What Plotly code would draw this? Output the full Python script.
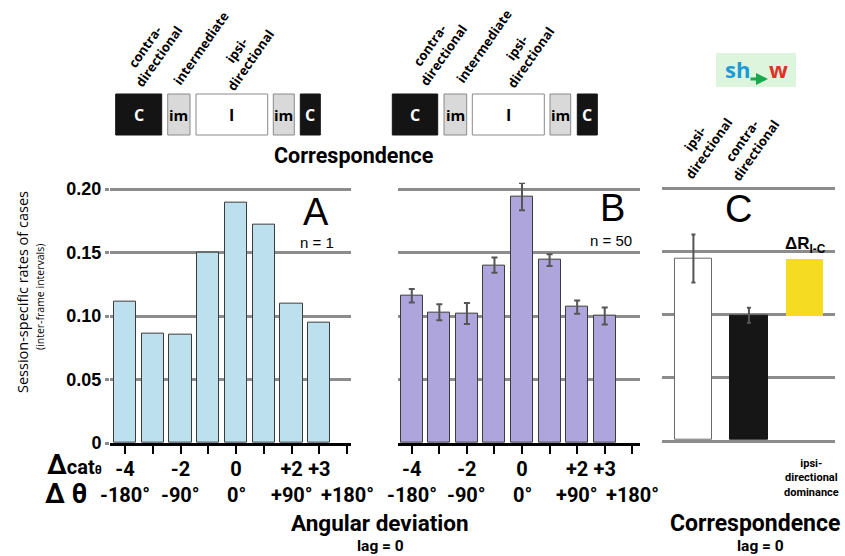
import plotly.graph_objects as go

# ---------------- data ----------------
cat_delta = [-4, -3, -2, -1, 0, 1, 2, 3]
rates_A = [0.111, 0.086, 0.085, 0.150, 0.189, 0.172, 0.110, 0.095]
rates_B = [0.116, 0.103, 0.102, 0.140, 0.194, 0.144, 0.107, 0.100]
err_B = [0.0053, 0.0063, 0.0083, 0.0060, 0.0107, 0.0047, 0.0053, 0.0066]

corr_cats = ["ipsi", "contra", "delta"]
rate_ipsi = 0.144
err_ipsi = 0.019
rate_contra = 0.099
err_contra = 0.006

tick_vals = [-4, -3, -2, -1, 0, 1, 2, 3, 4]
tick_row1 = ["-4", "", "-2", "", "0", "", "+2", "+3", ""]
deg_vals = [-4, -2, 0, 2, 4]
deg_text = ["-180°", "-90°", "0°", "+90°", "+180°"]
y_ticks = [0, 0.05, 0.10, 0.15, 0.20]
y_tick_text = ["0", "0.05", "0.10", "0.15", "0.20"]

# ---------------- helpers ----------------
W, H = 845, 556


def px(x):
    return x / W


def py(y):
    return 1 - y / H


NARROW = "Roboto, Liberation Sans, sans-serif"
SANS = "Open Sans, Liberation Sans, sans-serif"
ARIAL = "Liberation Sans, Arial, sans-serif"
GRID = "#8c8c8c"
ERR = "#555555"

fig = go.Figure()

# Panel A
fig.add_trace(go.Bar(
    x=cat_delta, y=rates_A, width=0.8, xaxis="x", yaxis="y",
    marker=dict(color="#bde0ef", line=dict(color="#3c3c3c", width=1)),
    showlegend=False))

# Panel B
fig.add_trace(go.Bar(
    x=cat_delta, y=rates_B, width=0.8, xaxis="x2", yaxis="y2",
    marker=dict(color="#aea5dc", line=dict(color="#3c3c3c", width=1)),
    error_y=dict(type="data", array=err_B, color=ERR, thickness=2, width=3),
    showlegend=False))

# Panel C
fig.add_trace(go.Bar(
    x=corr_cats[:2], y=[rate_ipsi, rate_contra], width=0.67, xaxis="x3", yaxis="y3",
    marker=dict(color=["#ffffff", "#161616"], line=dict(color=["#6a6a6a", "#161616"], width=1)),
    error_y=dict(type="data", array=[err_ipsi, err_contra], color=ERR, thickness=2, width=2),
    showlegend=False))
fig.add_trace(go.Bar(
    x=[corr_cats[2]], y=[rate_ipsi - rate_contra], base=[rate_contra], width=0.67,
    xaxis="x3", yaxis="y3",
    marker=dict(color="#f5dc22", line=dict(width=0)),
    showlegend=False))

yA_bottom, yA_top = 443, 443 - 0.205 * 1270
yC_bottom, yC_top = 440, 440 - 0.205 * 1260

common_y = dict(range=[0, 0.205], tickvals=y_ticks, showgrid=True, gridcolor=GRID,
                gridwidth=3, zeroline=False, showline=False, automargin=False)
xtick_common = dict(tickvals=tick_vals, ticktext=tick_row1, ticks="outside", ticklen=8,
                    tickwidth=2, tickcolor="black", showline=True, linecolor="black",
                    linewidth=3, showgrid=False, zeroline=False, ticklabelstandoff=-2,
                    tickangle=0, automargin=False,
                    tickfont=dict(family=NARROW, size=20, color="black", weight="bold"))

fig.update_layout(
    template="none",
    width=W, height=H, margin=dict(l=0, r=0, t=0, b=0, pad=0, autoexpand=False),
    paper_bgcolor="white", plot_bgcolor="rgba(0,0,0,0)",
    barmode="overlay", bargap=0,
    xaxis=dict(domain=[px(110), px(351)], range=[-4.54, 4.14], anchor="y", **xtick_common),
    yaxis=dict(domain=[py(yA_bottom), py(yA_top)], anchor="x", ticktext=y_tick_text,
               ticks="outside", ticklen=4, tickwidth=3, tickcolor=GRID,
               tickfont=dict(family=ARIAL, size=18, color="black", weight="bold"),
               **common_y),
    xaxis2=dict(domain=[px(398), px(640)], range=[-4.5, 4.28], anchor="y2", **xtick_common),
    yaxis2=dict(domain=[py(yA_bottom), py(yA_top)], anchor="x2", showticklabels=False,
                ticks="", **common_y),
    xaxis3=dict(domain=[px(662), px(835)], range=[-0.566, 2.55], anchor="y3",
                type="category", categoryorder="array", categoryarray=corr_cats,
                showticklabels=False, ticks="", showline=True, linecolor=GRID,
                linewidth=3, showgrid=False, zeroline=False, automargin=False),
    yaxis3=dict(domain=[py(yC_bottom), py(yC_top)], anchor="x3", showticklabels=False,
                ticks="", **common_y),
)

anns = []


def ann(text, x, y, size, color="black", family=SANS, weight="normal", angle=0,
        xanchor="center", yanchor="middle", xref="paper", xval=None):
    anns.append(dict(text=text, x=xval if xval is not None else px(x), y=py(y),
                     xref=xref, yref="paper", showarrow=False, textangle=angle,
                     xanchor=xanchor, yanchor=yanchor,
                     font=dict(size=size, color=color, family=family, weight=weight)))


# top schematic boxes
box_sets = [
    [(115.7, 161.7, "C", "k"), (167.7, 190, "im", "g"), (196, 267.7, "I", "w"),
     (273.3, 294.3, "im", "g"), (300.3, 320.3, "C", "k")],
    [(392.3, 437.7, "C", "k"), (444, 466.7, "im", "g"), (472.3, 544.3, "I", "w"),
     (550, 570.7, "im", "g"), (577.3, 597.3, "C", "k")],
]
fills = {"k": "#141414", "g": "#d9d9d9", "w": "#ffffff"}
lines = {"k": "#141414", "g": "#8a8a8a", "w": "#8a8a8a"}
shapes = []
for bs in box_sets:
    for x0, x1, lab, kind in bs:
        shapes.append(dict(type="rect", xref="paper", yref="paper", x0=px(x0), x1=px(x1),
                           y0=py(135), y1=py(94), fillcolor=fills[kind],
                           line=dict(color=lines[kind], width=1)))
        ann(lab, (x0 + x1) / 2, 115, 15 if lab == "im" else 16,
            color="white" if kind == "k" else "black", weight="bold")

# rotated labels above boxes
for off, pos in [(0, [(152, 52), (201, 48), (243, 55)]), (1, [(436, 50), (484, 46), (524, 53)])]:
    for txt, (x, y) in zip(["contra-<br>directional", "intermediate", "ipsi-<br>directional"], pos):
        ann(txt, x, y, 13, weight="bold", angle=-55)

ann("Correspondence", 354, 155, 21.5, family=NARROW, weight="bold")

# C panel rotated labels
ann("ipsi-<br>directional", 702, 144, 13, weight="bold", angle=-55)
ann("contra-<br>directional", 749, 146, 13, weight="bold", angle=-55)

# sh -> w box
shapes.append(dict(type="rect", xref="paper", yref="paper", x0=px(716), x1=px(796),
                   y0=py(87), y1=py(53), fillcolor="#dcf5dc", line=dict(width=0)))
ann("sh", 737, 69, 22, color="#1b9bd7", weight="bold")
ann("w", 778, 69, 22, color="#e0302a", weight="bold")
anns.append(dict(x=px(768), y=py(79), ax=-19, ay=0,
                 xref="paper", yref="paper", text="", showarrow=True, arrowhead=2,
                 arrowsize=0.8, arrowwidth=3, arrowcolor="#18a84e"))

# y title
ann("Session-specific rates of cases", 22, 292, 14.5, angle=-90)
ann("(inter-frame intervals)", 40, 297, 10.5, angle=-90)

# panel letters
ann("A", 316, 212, 38, family=ARIAL)
ann("n = 1", 317, 243, 15, family=ARIAL)
ann("B", 612, 208, 38, family=ARIAL)
ann("n = 50", 611, 240, 15, family=ARIAL)
ann("C", 738, 209, 38, family=ARIAL)
ann("ΔR<sub>I-C</sub>", 805, 245, 17, family=ARIAL, weight="bold")

# x row labels
ann("<span style='font-size:27px'>Δ</span>cat<span style='font-size:12px'>θ</span>",
    74, 465, 20, family=NARROW, weight="bold")
ann("Δ θ", 66, 494, 27, family=NARROW, weight="bold")
for xr in ["x", "x2"]:
    for v, t in zip(deg_vals, deg_text):
        ann(t, None, 495, 20, family=NARROW, weight="bold", xref=xr, xval=v)

ann("Angular deviation", 380, 523, 22.5, family=NARROW, weight="bold")
ann("lag = 0", 380, 546, 15.5, family=NARROW, weight="bold")
ann("Correspondence", 755, 523, 23, family=NARROW, weight="bold")
ann("lag = 0", 760, 546, 15.5, family=NARROW, weight="bold")
ann("ipsi-<br>directional<br>dominance", 811, 478, 11, family=NARROW, weight="bold")

fig.update_layout(annotations=anns, shapes=shapes)
fig.write_html("out.html", config={"displayModeBar": False},
               post_script="document.body.style.margin='0';document.body.style.padding='0';")
